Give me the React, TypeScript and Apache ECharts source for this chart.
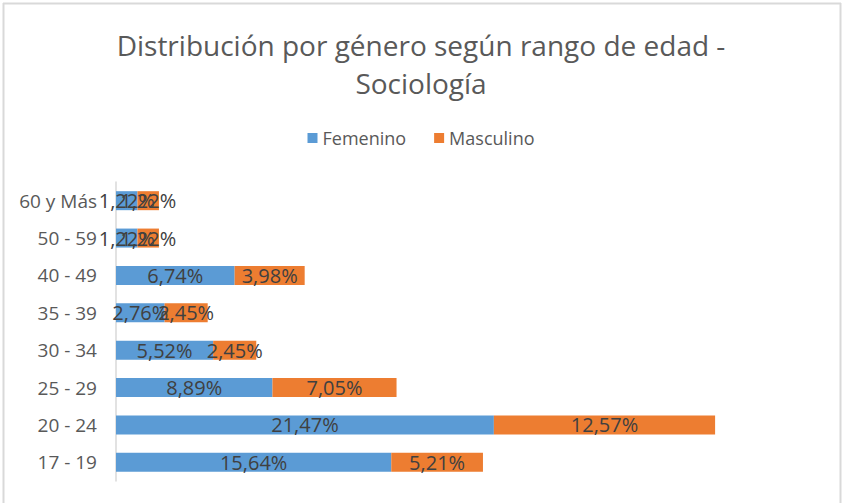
import React, { useEffect, useRef } from "react";
import * as echarts from "echarts";

const categories = ["17 - 19", "20 - 24", "25 - 29", "30 - 34", "35 - 39", "40 - 49", "50 - 59", "60 y Más"];
const femenino = [15.64, 21.47, 8.89, 5.52, 2.76, 6.74, 1.22, 1.22];
const masculino = [5.21, 12.57, 7.05, 2.45, 2.45, 3.98, 1.22, 1.22];
const seriesNames = ["Femenino", "Masculino"];
const titleText = "Distribución por género según rango de edad -\nSociología";

const FONT = "'Open Sans', 'Noto Sans', sans-serif";

export default function App() {
  const ref = useRef<HTMLDivElement>(null);
  useEffect(() => {
    const chart = echarts.init(ref.current!, null, { renderer: "svg" });
    const fmt = (p: any) => p.value.toFixed(2).replace(".", ",") + "%";
    chart.setOption({
      animation: false,
      backgroundColor: "#ffffff",
      title: {
        text: titleText,
        left: "center",
        top: 21,
        textStyle: { fontFamily: FONT, fontSize: 28, fontWeight: "normal", color: "#595959", lineHeight: 38 },
      },
      legend: {
        data: seriesNames,
        top: 124,
        left: "center",
        itemWidth: 10,
        itemHeight: 10,
        itemGap: 28,
        icon: "rect",
        textStyle: { fontFamily: FONT, fontSize: 18, color: "#595959" },
      },
      graphic: [
        { type: "line", shape: { x1: 3, y1: 3.5, x2: 841, y2: 3.5 }, style: { stroke: "#d9d9d9", lineWidth: 2 } },
        { type: "line", shape: { x1: 3.5, y1: 3, x2: 3.5, y2: 503 }, style: { stroke: "#d9d9d9", lineWidth: 2 } },
        { type: "line", shape: { x1: 840.5, y1: 3, x2: 840.5, y2: 503 }, style: { stroke: "#d9d9d9", lineWidth: 2 } },
      ],
      grid: { left: 116, right: 22, top: 182, bottom: 22, containLabel: false },
      xAxis: {
        type: "value",
        min: 0,
        max: 40,
        show: false,
      },
      yAxis: {
        type: "category",
        data: categories,
        axisLine: { show: true, lineStyle: { color: "#d9d9d9", width: 1.5 } },
        axisTick: { show: false },
        axisLabel: { fontFamily: FONT, fontSize: 19, color: "#595959", margin: 19 },
      },
      series: [
        {
          name: seriesNames[0],
          type: "bar",
          stack: "total",
          data: femenino,
          barWidth: 19,
          itemStyle: { color: "#5B9BD5" },
          label: { show: true, position: "inside", formatter: fmt, fontFamily: FONT, fontSize: 20, color: "#404040" },
        },
        {
          name: seriesNames[1],
          type: "bar",
          stack: "total",
          data: masculino,
          barWidth: 19,
          itemStyle: { color: "#ED7D31" },
          label: { show: true, position: "inside", formatter: fmt, fontFamily: FONT, fontSize: 20, color: "#404040" },
        },
      ],
    });
    return () => chart.dispose();
  }, []);
  return <div ref={ref} style={{ position: "fixed", left: 0, top: 0, width: 842, height: 503 }} />;
}
